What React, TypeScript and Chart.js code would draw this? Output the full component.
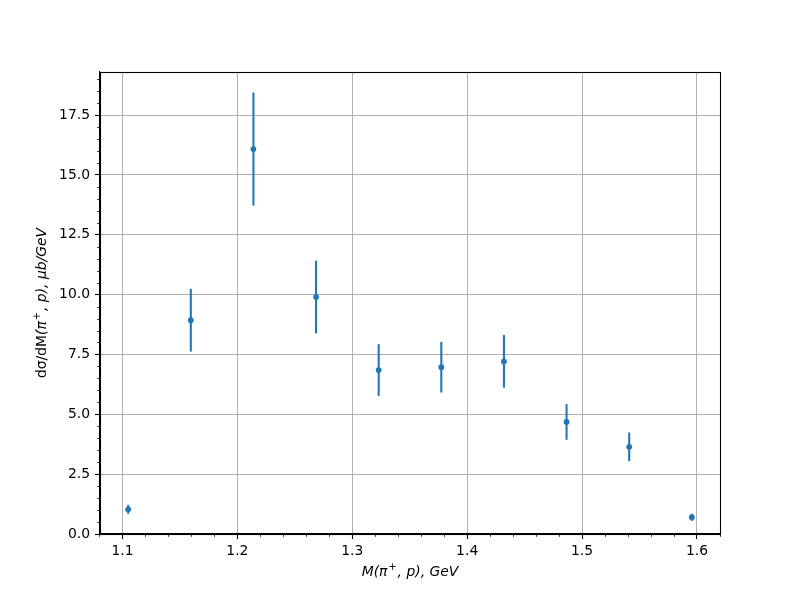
import React, { useEffect, useRef } from "react";
import { Chart, registerables } from "chart.js";

Chart.register(...registerables);

const massValues = [1.105, 1.1595, 1.214, 1.2685, 1.323, 1.3775, 1.432, 1.4865, 1.541, 1.5955];
const crossSection = [1.03, 8.93, 16.08, 9.9, 6.85, 6.97, 7.21, 4.68, 3.64, 0.7];
const crossSectionErr = [0.19, 1.31, 2.36, 1.52, 1.08, 1.06, 1.1, 0.745, 0.6, 0.15];
const xTickValues = [1.1, 1.2, 1.3, 1.4, 1.5, 1.6];
const yTickValues = [0, 2.5, 5, 7.5, 10, 12.5, 15, 17.5];
const xMinorTicks = [1.08, 1.12, 1.14, 1.16, 1.18, 1.22, 1.24, 1.26, 1.28, 1.32, 1.34, 1.36, 1.38, 1.42, 1.44, 1.46, 1.48, 1.52, 1.54, 1.56, 1.58, 1.62];
const yMinorTicks = [0.5, 1, 1.5, 2, 3, 3.5, 4, 4.5, 5.5, 6, 6.5, 7, 8, 8.5, 9, 9.5, 10.5, 11, 11.5, 12, 13, 13.5, 14, 14.5, 15.5, 16, 16.5, 17, 18, 18.5, 19];

const COLOR = "#1f77b4";
const FONT = "'DejaVu Sans', sans-serif";
const FS = 13.9;

type Seg = { text: string; italic?: boolean; sup?: boolean };

const xTitle: Seg[] = [
  { text: "M(π", italic: true },
  { text: "+", italic: true, sup: true },
  { text: ", p), GeV", italic: true },
];
const yTitle: Seg[] = [
  { text: "dσ/dM" },
  { text: "(π", italic: true },
  { text: "+", italic: true, sup: true },
  { text: ", p), μb/GeV", italic: true },
];

function segFont(s: Seg) {
  const size = s.sup ? FS * 0.7 : FS;
  return `${s.italic ? "oblique " : ""}${size}px ${FONT}`;
}

function drawSegs(ctx: CanvasRenderingContext2D, segs: Seg[], cx: number, cy: number, rot: number) {
  ctx.save();
  ctx.translate(cx, cy);
  ctx.rotate(rot);
  ctx.textBaseline = "middle";
  ctx.textAlign = "left";
  ctx.fillStyle = "#000";
  let total = 0;
  const widths = segs.map((s) => {
    ctx.font = segFont(s);
    const w = ctx.measureText(s.text).width + (s.sup ? 2 : 0);
    total += w;
    return w;
  });
  let x = -total / 2;
  segs.forEach((s, i) => {
    ctx.font = segFont(s);
    ctx.fillText(s.text, x + (s.sup ? 1 : 0), s.sup ? -5 : 0);
    x += widths[i];
  });
  ctx.restore();
}

const extrasPlugin = {
  id: "extras",
  beforeDatasetsDraw(chart: any) {
    const ctx = chart.ctx as CanvasRenderingContext2D;
    const xs = chart.scales.x;
    const ys = chart.scales.y;
    ctx.save();
    ctx.strokeStyle = COLOR;
    ctx.lineWidth = 2.08;
    ctx.lineCap = "butt";
    massValues.forEach((m, i) => {
      const px = xs.getPixelForValue(m);
      const top = ys.getPixelForValue(crossSection[i] + crossSectionErr[i]);
      const bot = ys.getPixelForValue(crossSection[i] - crossSectionErr[i]);
      ctx.beginPath();
      ctx.moveTo(px, top);
      ctx.lineTo(px, bot);
      ctx.stroke();
    });
    ctx.restore();
  },
  afterDraw(chart: any) {
    const ctx = chart.ctx as CanvasRenderingContext2D;
    const { left, right, top, bottom } = chart.chartArea;
    const xs = chart.scales.x;
    const ys = chart.scales.y;
    ctx.save();
    ctx.strokeStyle = "#000";
    ctx.lineWidth = 0.83;
    xMinorTicks.forEach((v) => {
      const px = Math.round(xs.getPixelForValue(v)) + 0.5;
      if (px < left - 0.5 || px > right + 0.5) return;
      ctx.beginPath();
      ctx.moveTo(px, bottom);
      ctx.lineTo(px, bottom + 2.8);
      ctx.stroke();
    });
    yMinorTicks.forEach((v) => {
      const py = Math.round(ys.getPixelForValue(v)) + 0.5;
      if (py < top - 0.5) return;
      ctx.beginPath();
      ctx.moveTo(left, py);
      ctx.lineTo(left - 2.8, py);
      ctx.stroke();
    });
    ctx.lineWidth = 1.1;
    ctx.strokeRect(Math.round(left) + 0.5, Math.round(top) + 0.5, Math.round(right - left), Math.round(bottom - top));
    ctx.restore();
    drawSegs(ctx, xTitle, (left + right) / 2, 572, 0);
    drawSegs(ctx, yTitle, 42, (top + bottom) / 2, -Math.PI / 2);
  },
};

export default function App() {
  const ref = useRef<HTMLCanvasElement | null>(null);
  useEffect(() => {
    if (!ref.current) return;
    const xMin = 1.105 - 0.05 * (1.5955 - 1.105);
    const xMax = 1.5955 + 0.05 * (1.5955 - 1.105);
    const chart = new Chart(ref.current, {
      type: "scatter",
      data: {
        datasets: [
          {
            data: massValues.map((m, i) => ({ x: m, y: crossSection[i] })),
            backgroundColor: COLOR,
            borderColor: COLOR,
            borderWidth: 0,
            pointRadius: 2.9,
            pointHoverRadius: 2.9,
          },
        ],
      },
      options: {
        responsive: false,
        animation: false,
        events: [],
        layout: { padding: { left: 0, top: 72, right: 80, bottom: 0 } },
        plugins: { legend: { display: false }, tooltip: { enabled: false } },
        scales: {
          x: {
            type: "linear",
            min: xMin,
            max: xMax,
            afterBuildTicks: (s: any) => {
              s.ticks = xTickValues.map((v) => ({ value: v }));
            },
            afterFit: (s: any) => {
              s.height = 66;
            },
            ticks: {
              color: "#000",
              font: { family: FONT, size: FS },
              padding: 4,
              maxRotation: 0,
              callback: (v: any) => Number(v).toFixed(1),
            },
            grid: { color: "#b0b0b0", lineWidth: 1, tickLength: 5, tickColor: "#000", tickWidth: 1.1 },
            border: { display: true, color: "#000", width: 1.1 },
          },
          y: {
            type: "linear",
            min: 0,
            max: 19.3,
            afterBuildTicks: (s: any) => {
              s.ticks = yTickValues.map((v) => ({ value: v }));
            },
            afterFit: (s: any) => {
              s.width = 100;
            },
            ticks: {
              color: "#000",
              font: { family: FONT, size: FS },
              padding: 5,
              callback: (v: any) => Number(v).toFixed(1),
            },
            grid: { color: "#b0b0b0", lineWidth: 1, tickLength: 5, tickColor: "#000", tickWidth: 1.1 },
            border: { display: true, color: "#000", width: 1.1 },
          },
        },
      },
      plugins: [extrasPlugin],
    });
    return () => chart.destroy();
  }, []);
  return (
    <div style={{ position: "absolute", left: 0, top: 0, width: 800, height: 600, background: "#fff" }}>
      <canvas ref={ref} width={800} height={600} style={{ display: "block" }} />
    </div>
  );
}
